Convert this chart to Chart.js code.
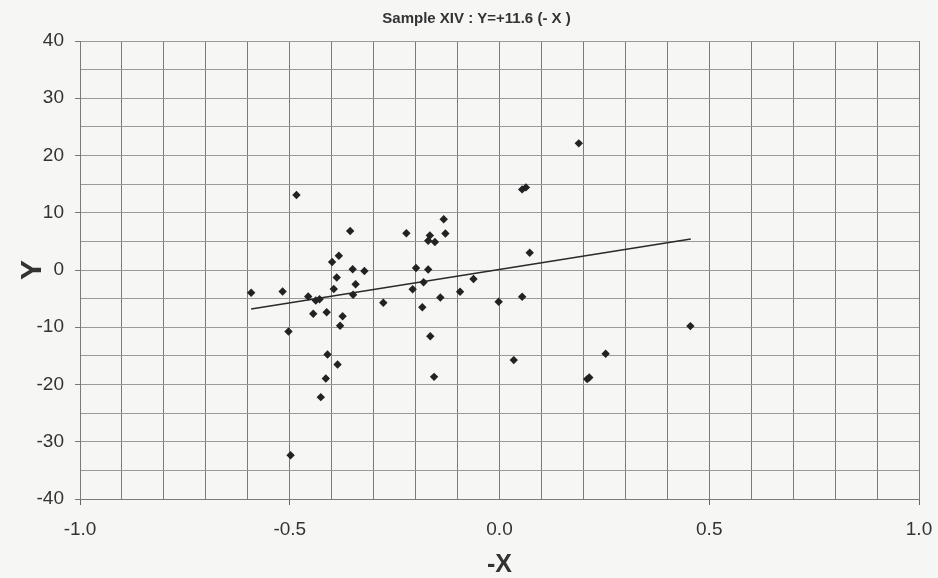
<!DOCTYPE html>
<html>
<head>
<meta charset="utf-8">
<title>Sample XIV</title>
<script src="https://cdn.jsdelivr.net/npm/chart.js@4.4.0/dist/chart.umd.min.js"></script>
<style>
  html, body { margin: 0; padding: 0; background: #f6f6f5; }
  #wrap { width: 938px; height: 578px; }
</style>
</head>
<body>
<div id="wrap"><canvas id="plot" width="938" height="578"></canvas></div>
<script>
// sample points (-X, Y)
var sampleX = [
  -0.592, -0.517, -0.484, -0.503, -0.498, -0.456, -0.438, -0.429, -0.444, -0.412,
  -0.399, -0.383, -0.388, -0.395, -0.374, -0.380, -0.356, -0.350, -0.343, -0.349,
  -0.322, -0.277, -0.222, -0.199, -0.207, -0.170, -0.166, -0.154, -0.133, -0.129,
  -0.170, -0.181, -0.184, -0.141, -0.094, -0.062, -0.165, -0.410, -0.386, -0.414,
  -0.426, -0.156, 0.034, 0.189, 0.054, 0.063, 0.072, -0.002, 0.054, 0.253,
  0.209, 0.214, 0.455
];
var sampleY = [
  -3.98, -3.75, 13.10, -10.74, -32.35, -4.62, -5.32, -5.11, -7.65, -7.39,
  1.39, 2.49, -1.32, -3.33, -8.09, -9.75, 6.81, 0.13, -2.49, -4.33,
  -0.17, -5.73, 6.42, 0.34, -3.37, 5.11, 6.02, 4.89, 8.87, 6.37,
  0.10, -2.14, -6.51, -4.80, -3.80, -1.58, -11.58, -14.76, -16.51, -18.96,
  -22.21, -18.66, -15.74, 22.12, 14.08, 14.43, 3.02, -5.55, -4.68, -14.64,
  -19.06, -18.78, -9.80
];

// fitted line end points
var fitX = [-0.592, 0.456];
var fitY = [-6.8, 5.4];

var xTicksShown = [-1.0, -0.5, 0.0, 0.5, 1.0];
var yTicksShown = [-40, -30, -20, -10, 0, 10, 20, 30, 40];

function toPoints(xs, ys) {
  var pts = [];
  for (var i = 0; i < xs.length; i++) {
    pts.push({ x: xs[i], y: ys[i] });
  }
  return pts;
}

function shownX(v) {
  return xTicksShown.some(function (t) { return Math.abs(t - v) < 1e-6; });
}
function shownY(v) {
  return yTicksShown.some(function (t) { return Math.abs(t - v) < 1e-6; });
}

var ctx = document.getElementById("plot").getContext('2d');
var chart = new Chart(ctx, {
  type: 'scatter',
  data: {
    datasets: [
      {
        label: 'Y',
        data: toPoints(sampleX, sampleY),
        pointStyle: 'rectRot',
        pointRadius: 4.2,
        pointBackgroundColor: '#222',
        pointBorderColor: '#222',
        pointBorderWidth: 0,
        showLine: false
      },
      {
        label: 'fit',
        data: toPoints(fitX, fitY),
        showLine: true,
        borderColor: '#2a2a2a',
        borderWidth: 1.5,
        pointRadius: 0,
        fill: false
      }
    ]
  },
  options: {
    responsive: false,
    animation: false,
    layout: { padding: { left: 34, right: 19, top: 0, bottom: 0 } },
    plugins: {
      legend: { display: false },
      tooltip: { enabled: false },
      title: {
        display: true,
        text: 'Sample XIV : Y=+11.6 (- X )',
        color: '#333',
        font: { family: 'Liberation Sans', size: 15, weight: 'bold' },
        padding: { top: 10, bottom: 13 }
      }
    },
    scales: {
      x: {
        type: 'linear',
        min: -1,
        max: 1,
        afterFit: function (scale) {
          scale.height = 79;
          // the end labels may hang past the plot edge
          scale.paddingLeft = 0;
          scale.paddingRight = 0;
        },
        ticks: {
          stepSize: 0.1,
          autoSkip: false,
          maxRotation: 0,
          padding: 13,
          color: '#333',
          font: { family: 'Liberation Sans', size: 19 },
          callback: function (v) { return shownX(v) ? Number(v).toFixed(1) : ''; }
        },
        grid: {
          color: '#7a7a7a',
          lineWidth: 1,
          tickLength: 6,
          tickColor: function (c) { return c.tick && shownX(c.tick.value) && Math.abs(c.tick.value) > 1e-6 ? '#666' : 'rgba(0,0,0,0)'; }
        },
        border: { color: '#7a7a7a' },
        title: {
          display: true,
          text: '-X',
          color: '#333',
          font: { family: 'Liberation Sans', size: 25, weight: 'bold' },
          padding: { top: 0, bottom: -2 }
        }
      },
      y: {
        type: 'linear',
        min: -40,
        max: 40,
        afterFit: function (scale) { scale.width = 46; },
        ticks: {
          stepSize: 5,
          autoSkip: false,
          padding: 11,
          color: '#333',
          font: { family: 'Liberation Sans', size: 19 },
          callback: function (v) { return shownY(v) ? String(v) : ''; }
        },
        grid: {
          color: '#9a9a9a',
          lineWidth: 1,
          tickLength: 5,
          tickColor: function (c) { return c.tick && shownY(c.tick.value) ? '#777' : 'rgba(0,0,0,0)'; }
        },
        border: { color: '#7a7a7a' },
        title: {
          display: true,
          text: 'Y',
          color: '#333',
          font: { family: 'Liberation Sans', size: 30, weight: 'bold' },
          padding: { top: -19, bottom: 0 }
        }
      }
    }
  }
});
</script>
</body>
</html>
